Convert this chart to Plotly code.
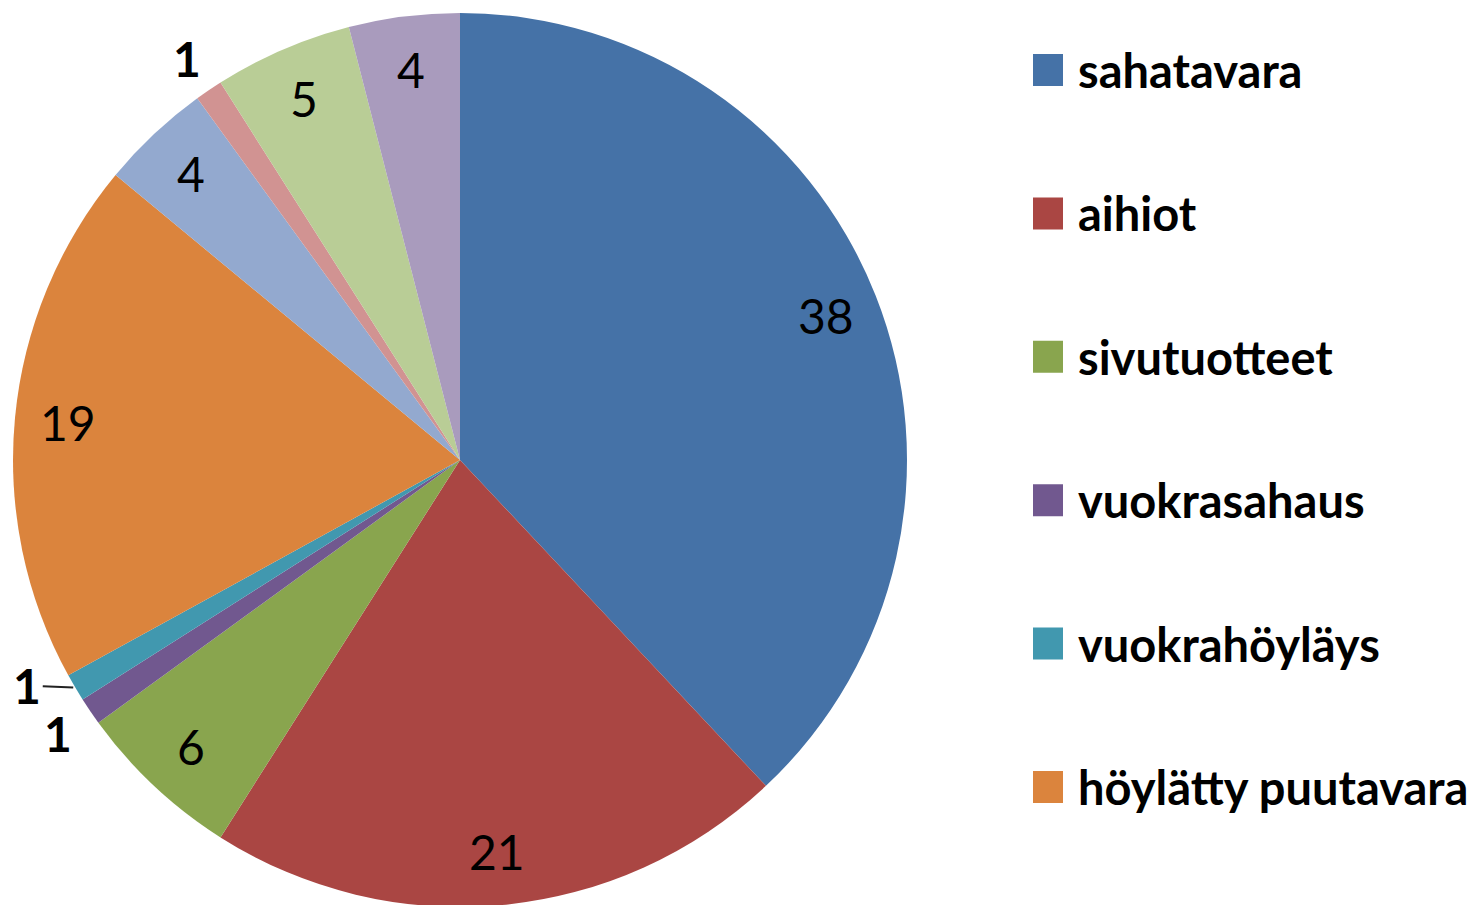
import math
import plotly.graph_objects as go

# ---- data ----
labels = ["sahatavara", "aihiot", "sivutuotteet", "vuokrasahaus", "vuokrahöyläys",
          "höylätty puutavara", "muu 1", "muu 2", "muu 3", "muu 4"]
values = [38, 21, 6, 1, 1, 19, 4, 1, 5, 4]
colors = ["#4572A7", "#AA4643", "#89A54E", "#71588F", "#4198AF",
          "#DB843D", "#93A9CF", "#D19392", "#B9CD96", "#A99BBD"]
legend_labels = labels[:6]

W, H = 1476, 905
OFF = 8                  # page body margin of the html page
CX, CY, R = 460 - OFF, 460 - OFF, 447   # pie geometry in figure pixels

fig = go.Figure()
fig.add_trace(go.Pie(
    labels=labels,
    values=values,
    sort=False,
    direction="clockwise",
    rotation=0,
    marker=dict(colors=colors, line=dict(width=0)),
    textinfo="none",
    domain=dict(x=[(CX - R) / W, (CX + R) / W],
                y=[1 - (CY + R) / H, 1 - (CY - R) / H]),
    showlegend=False,
    hoverinfo="label+value",
))

# data labels placed at each slice's mid angle (derived from the values)
total = sum(values)
cum = 0
for i, v in enumerate(values):
    mid = (cum + v / 2) / total * 2 * math.pi
    cum += v
    small = v <= 1
    r = 486 if small else 0.88 * R
    px = CX + r * math.sin(mid)
    py = CY - r * math.cos(mid)
    font = dict(family="Lato", size=48, color="#000000",
                weight="bold" if small else "normal")
    if labels[i] == "vuokrahöyläys":
        ex = CX + R * math.sin(mid)
        ey = CY - R * math.cos(mid)
        fig.add_annotation(xref="paper", yref="paper",
                           x=ex / W, y=1 - ey / H,
                           ax=-48, ay=-2, text=str(v), showarrow=True,
                           arrowhead=0, arrowwidth=2, arrowcolor="#222222",
                           standoff=2, font=font)
    else:
        fig.add_annotation(xref="paper", yref="paper",
                           x=px / W, y=1 - py / H,
                           xanchor="center", yanchor="middle",
                           text=str(v), showarrow=False, font=font)

# manual legend (only the visible part of the original legend)
y0 = 70 - OFF
step = 143.4
for i, lab in enumerate(legend_labels):
    yc = y0 + i * step
    fig.add_shape(type="rect", xref="paper", yref="paper",
                  x0=(1033 - OFF) / W, x1=(1063 - OFF) / W,
                  y0=1 - (yc + 16) / H, y1=1 - (yc - 16) / H,
                  fillcolor=colors[i], line=dict(width=0))
    fig.add_annotation(xref="paper", yref="paper",
                       x=(1076 - OFF) / W, y=1 - yc / H,
                       xanchor="left", yanchor="middle",
                       text=lab, showarrow=False,
                       font=dict(family="Lato", size=47, color="#000000", weight="bold"))

fig.update_layout(
    width=W, height=H,
    margin=dict(l=0, r=0, t=0, b=0),
    paper_bgcolor="#FFFFFF",
    plot_bgcolor="#FFFFFF",
)

fig.write_html("out.html")
